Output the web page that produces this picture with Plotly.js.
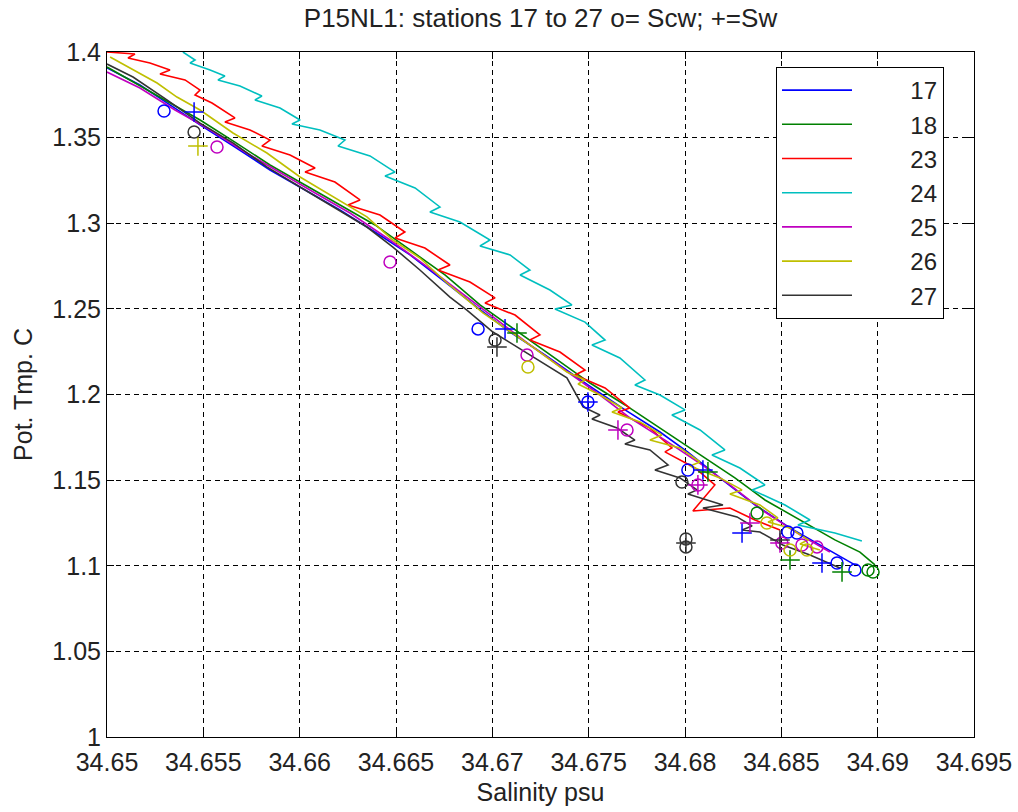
<!DOCTYPE html>
<html><head><meta charset="utf-8">
<script src="https://cdn.plot.ly/plotly-3.0.1.min.js"></script>
<style>html,body{margin:0;padding:0;background:#fff}#chart{width:1018px;height:812px}</style>
</head><body><div id="chart"></div>
<script>
// ---- data ----
const stationNames = ['17','18','23','24','25','26','27'];
const stationColors = ['#0000ff','#008000','#ff0000','#00bfbf','#bf00bf','#bfbf00','#333333'];

const xTickVals = [34.65,34.655,34.66,34.665,34.67,34.675,34.68,34.685,34.69,34.695];
const xTickText = ['34.65','34.655','34.66','34.665','34.67','34.675','34.68','34.685','34.69','34.695'];
const yTickVals = [1,1.05,1.1,1.15,1.2,1.25,1.3,1.35,1.4];
const yTickText = ['1','1.05','1.1','1.15','1.2','1.25','1.3','1.35','1.4'];

// station 17 (blue)
const s17_sal = [34.65000,34.65171,34.65327,34.65483,34.65664,34.65846,34.66028,34.66209,34.66391,34.66573,34.66754,34.66926,34.67092,34.67273,34.67496,34.67689,34.67870,34.68015,34.68181,34.68363,34.68545,34.68726,34.68882];
const s17_tmp = [1.3907,1.3807,1.3691,1.3574,1.3445,1.3311,1.3194,1.3077,1.2949,1.2815,1.2657,1.2505,1.2365,1.2231,1.2056,1.1910,1.1781,1.1664,1.1513,1.1355,1.1221,1.1104,1.1005];
// station 18 (green)
const s18_sal = [34.65000,34.65119,34.65301,34.65483,34.65664,34.65846,34.66028,34.66209,34.66391,34.66573,34.66754,34.66936,34.67118,34.67299,34.67507,34.67689,34.67870,34.68078,34.68259,34.68415,34.68597,34.68778,34.68908,34.68986];
const s18_tmp = [1.3912,1.3837,1.3720,1.3603,1.3474,1.3340,1.3223,1.3107,1.2990,1.2844,1.2698,1.2523,1.2377,1.2231,1.2067,1.1939,1.1804,1.1647,1.1513,1.1384,1.1267,1.1151,1.1080,1.1005];
// station 23 (red)
const s23_sal = [34.65000,34.65145,34.65109,34.65223,34.65327,34.65275,34.65405,34.65483,34.65457,34.65545,34.65664,34.65612,34.65742,34.65846,34.65804,34.65950,34.66080,34.66028,34.66183,34.66313,34.66251,34.66417,34.66546,34.66495,34.66650,34.66780,34.66718,34.66884,34.67014,34.66962,34.67118,34.67247,34.67195,34.67351,34.67481,34.67429,34.67585,34.67714,34.67652,34.67818,34.67932,34.67896,34.68052,34.68155,34.68041,34.68233,34.68363,34.68493];
const s23_tmp = [1.4000,1.3988,1.3965,1.3936,1.3895,1.3872,1.3837,1.3778,1.3749,1.3702,1.3615,1.3591,1.3545,1.3486,1.3451,1.3399,1.3323,1.3299,1.3241,1.3136,1.3107,1.3048,1.2949,1.2914,1.2855,1.2756,1.2727,1.2657,1.2564,1.2534,1.2464,1.2348,1.2318,1.2248,1.2143,1.2114,1.2038,1.1921,1.1898,1.1804,1.1688,1.1665,1.1571,1.1472,1.1320,1.1337,1.1267,1.1209];
// station 24 (cyan)
const s24_sal = [34.65394,34.65457,34.65431,34.65535,34.65612,34.65576,34.65690,34.65804,34.65768,34.65898,34.66002,34.65960,34.66105,34.66235,34.66199,34.66365,34.66495,34.66443,34.66599,34.66728,34.66676,34.66832,34.66988,34.66936,34.67092,34.67195,34.67144,34.67299,34.67413,34.67325,34.67481,34.67585,34.67517,34.67662,34.67792,34.67740,34.67870,34.68000,34.67932,34.68078,34.68207,34.68140,34.68285,34.68415,34.68348,34.68519,34.68649,34.68586,34.68778,34.68918];
const s24_tmp = [1.4000,1.3953,1.3936,1.3895,1.3860,1.3837,1.3801,1.3743,1.3720,1.3673,1.3603,1.3580,1.3545,1.3486,1.3451,1.3393,1.3299,1.3276,1.3206,1.3095,1.3066,1.3007,1.2902,1.2867,1.2815,1.2727,1.2698,1.2610,1.2523,1.2499,1.2423,1.2318,1.2289,1.2213,1.2085,1.2056,1.1997,1.1910,1.1880,1.1793,1.1676,1.1647,1.1571,1.1472,1.1443,1.1355,1.1267,1.1238,1.1191,1.1145];
// station 25 (magenta)
const s25_sal = [34.65000,34.65171,34.65353,34.65535,34.65716,34.65898,34.66080,34.66261,34.66469,34.66650,34.66832,34.67014,34.67195,34.67377,34.67559,34.67714,34.67896,34.68067,34.68233,34.68415,34.68597,34.68752];
const s25_tmp = [1.3883,1.3790,1.3661,1.3545,1.3416,1.3299,1.3177,1.3060,1.2902,1.2756,1.2599,1.2447,1.2289,1.2143,1.1997,1.1863,1.1734,1.1606,1.1472,1.1314,1.1180,1.1080];
// station 26 (yellow)
const s26_sal = [34.65016,34.65135,34.65260,34.65363,34.65483,34.65654,34.65830,34.66002,34.66173,34.66349,34.66484,34.66624,34.66765,34.66951,34.67211,34.67387,34.67481,34.67445,34.67559,34.67673,34.67621,34.67766,34.67880,34.67818,34.67974,34.68078,34.68026,34.68181,34.68296,34.68233,34.68389,34.68482,34.68431,34.68545,34.68638,34.68597,34.68700];
const s26_tmp = [1.3971,1.3895,1.3819,1.3737,1.3661,1.3527,1.3410,1.3270,1.3153,1.3037,1.2902,1.2797,1.2651,1.2476,1.2277,1.2131,1.2085,1.2061,1.1997,1.1921,1.1898,1.1840,1.1764,1.1734,1.1688,1.1606,1.1583,1.1513,1.1443,1.1419,1.1355,1.1279,1.1256,1.1221,1.1151,1.1127,1.1092];
// station 27 (black)
const s27_sal = [34.65000,34.65135,34.65311,34.65483,34.65654,34.65830,34.66002,34.66173,34.66349,34.66484,34.66624,34.66780,34.66868,34.67003,34.67211,34.67387,34.67471,34.67559,34.67517,34.67648,34.67740,34.67688,34.67818,34.67912,34.67844,34.67974,34.68062,34.68015,34.68114,34.68197,34.68093,34.68270,34.68348,34.68296,34.68389,34.68508,34.68649,34.68804];
const s27_tmp = [1.3930,1.3854,1.3720,1.3585,1.3469,1.3329,1.3212,1.3095,1.2978,1.2861,1.2727,1.2569,1.2493,1.2365,1.2219,1.2097,1.1927,1.1880,1.1857,1.1804,1.1734,1.1711,1.1676,1.1589,1.1559,1.1513,1.1443,1.1419,1.1384,1.1355,1.1337,1.1285,1.1232,1.1209,1.1197,1.1121,1.1063,1.0987];

// bottle samples: o = Scw, + = Sw
const s17_scw_sal = [34.65296,34.66926,34.67496,34.68015,34.68534,34.68581,34.68789,34.68882];
const s17_scw_tmp = [1.3655,1.2383,1.1956,1.1559,1.1197,1.1191,1.1016,1.0975];
const s17_sw_sal  = [34.65452,34.67066,34.67496,34.68093,34.68296,34.68711];
const s17_sw_tmp  = [1.3650,1.2383,1.1956,1.1559,1.1191,1.1016];
const s18_scw_sal = [34.68374,34.68950,34.68976];
const s18_scw_tmp = [1.1308,1.0975,1.0964];
const s18_sw_sal  = [34.67128,34.68119,34.68545,34.68815];
const s18_sw_tmp  = [1.2359,1.1548,1.1034,1.0964];
const s25_scw_sal = [34.65571,34.66469,34.67180,34.67699,34.68067,34.68503,34.68607,34.68685];
const s25_scw_tmp = [1.3445,1.2774,1.2231,1.1793,1.1472,1.1133,1.1121,1.1110];
const s25_sw_sal  = [34.67652,34.68067,34.68337,34.68493];
const s25_sw_tmp  = [1.1793,1.1472,1.1250,1.1133];
const s26_scw_sal = [34.67185,34.68425,34.68545,34.68633];
const s26_scw_tmp = [1.2161,1.1250,1.1092,1.1092];
const s26_sw_sal  = [34.65472];
const s26_sw_tmp  = [1.3451];
const s27_scw_sal = [34.65452,34.67014,34.67984,34.68005,34.68005];
const s27_scw_tmp = [1.3533,1.2318,1.1489,1.1156,1.1110];
const s27_sw_sal  = [34.67024,34.68005,34.68493];
const s27_sw_tmp  = [1.2277,1.1133,1.1150];

// ---- traces ----
const lineData = [
  [s17_sal,s17_tmp],[s18_sal,s18_tmp],[s23_sal,s23_tmp],[s24_sal,s24_tmp],
  [s25_sal,s25_tmp],[s26_sal,s26_tmp],[s27_sal,s27_tmp]
];
const sampleData = {
  '17': [[s17_scw_sal,s17_scw_tmp],[s17_sw_sal,s17_sw_tmp]],
  '18': [[s18_scw_sal,s18_scw_tmp],[s18_sw_sal,s18_sw_tmp]],
  '25': [[s25_scw_sal,s25_scw_tmp],[s25_sw_sal,s25_sw_tmp]],
  '26': [[s26_scw_sal,s26_scw_tmp],[s26_sw_sal,s26_sw_tmp]],
  '27': [[s27_scw_sal,s27_scw_tmp],[s27_sw_sal,s27_sw_tmp]]
};
const NB = '\u00a0';
const traces = [];
stationNames.forEach((name,i) => {
  traces.push({
    x: lineData[i][0], y: lineData[i][1], type:'scatter', mode:'lines',
    name: NB.repeat(8) + name, line:{color:stationColors[i], width:1.6},
    hoverinfo:'skip'
  });
});
stationNames.forEach((name,i) => {
  const s = sampleData[name];
  if (!s) return;
  traces.push({x:s[0][0], y:s[0][1], type:'scatter', mode:'markers', showlegend:false,
    marker:{symbol:'circle-open', size:12, color:stationColors[i], line:{width:1.5, color:stationColors[i]}}});
  traces.push({x:s[1][0], y:s[1][1], type:'scatter', mode:'markers', showlegend:false,
    marker:{symbol:'cross-thin-open', size:14, color:stationColors[i], line:{width:1.5, color:stationColors[i]}}});
});

const FONT = 'Liberation Sans, Arial, sans-serif';
const axisCommon = {
  showline:true, linecolor:'#000', linewidth:1, mirror:'ticks',
  ticks:'inside', ticklen:7, tickcolor:'#000',
  showgrid:true, gridcolor:'#000', gridwidth:1, griddash:'5px,4px',
  zeroline:false, tickfont:{family:FONT, size:25, color:'#222'}
};
const layout = {
  width:1018, height:812,
  paper_bgcolor:'#fff', plot_bgcolor:'#fff',
  margin:{l:107, r:44, t:52, b:75},
  font:{family:FONT, size:25, color:'#222'},
  title:{text:'P15NL1: stations 17 to 27 o= Scw; +=Sw', font:{family:FONT, size:26, color:'#222'},
         x:0.5, xref:'paper', y:1-18/812, yref:'container', yanchor:'middle'},
  xaxis:Object.assign({}, axisCommon, {range:[34.65,34.695], tickvals:xTickVals, ticktext:xTickText,
         ticklabelstandoff:3,
         title:{text:'Salinity psu', font:{family:FONT,size:25,color:'#222'}, standoff:8}}),
  yaxis:Object.assign({}, axisCommon, {range:[1,1.4], tickvals:yTickVals, ticktext:yTickText,
         title:{text:'Pot. Tmp. C', font:{family:FONT,size:25,color:'#222'}, standoff:12}}),
  showlegend:true,
  legend:{x:(776-107)/867, y:(737-67)/685, xanchor:'left', yanchor:'top',
          bgcolor:'#fff', bordercolor:'#000', borderwidth:1,
          font:{family:FONT, size:24, color:'#222'}, itemwidth:70, tracegroupgap:0}
};
Plotly.newPlot('chart', traces, layout, {displayModeBar:false, staticPlot:true});
</script>
</body></html>
